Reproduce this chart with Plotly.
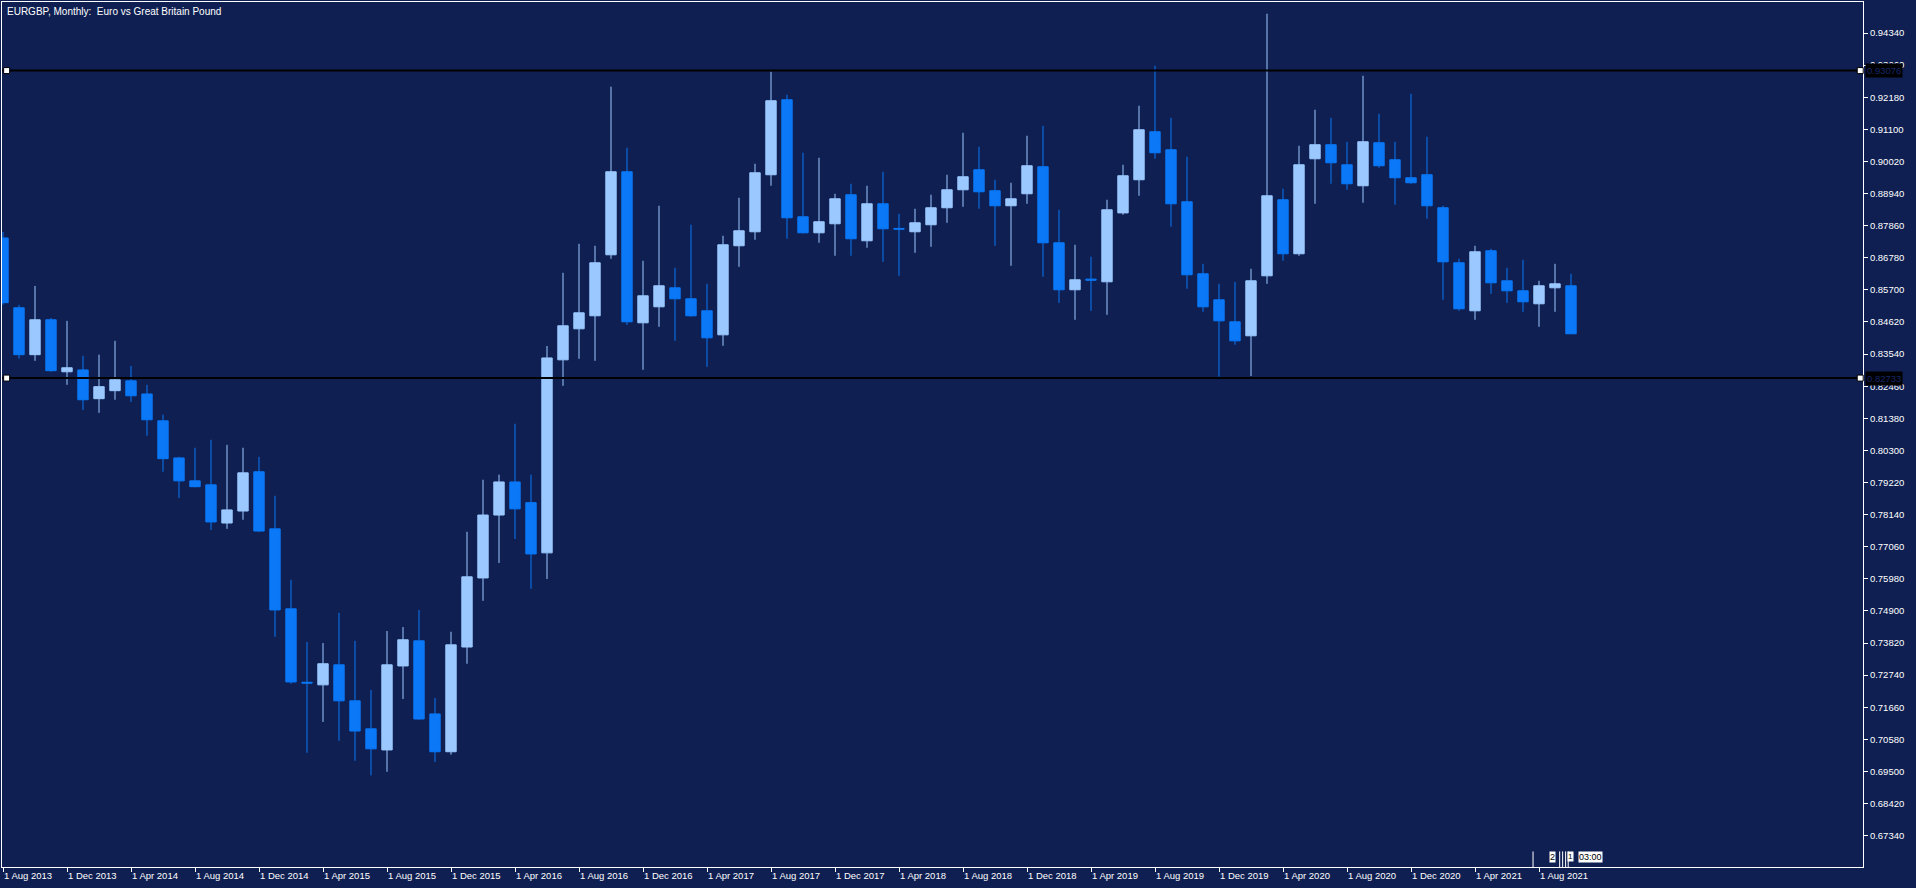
import plotly.graph_objects as go

# ---- data ----
months = ["Aug 2013","Sep 2013","Oct 2013","Nov 2013","Dec 2013",
          "Jan 2014","Feb 2014","Mar 2014","Apr 2014","May 2014","Jun 2014","Jul 2014","Aug 2014","Sep 2014","Oct 2014","Nov 2014","Dec 2014",
          "Jan 2015","Feb 2015","Mar 2015","Apr 2015","May 2015","Jun 2015","Jul 2015","Aug 2015","Sep 2015","Oct 2015","Nov 2015","Dec 2015",
          "Jan 2016","Feb 2016","Mar 2016","Apr 2016","May 2016","Jun 2016","Jul 2016","Aug 2016","Sep 2016","Oct 2016","Nov 2016","Dec 2016",
          "Jan 2017","Feb 2017","Mar 2017","Apr 2017","May 2017","Jun 2017","Jul 2017","Aug 2017","Sep 2017","Oct 2017","Nov 2017","Dec 2017",
          "Jan 2018","Feb 2018","Mar 2018","Apr 2018","May 2018","Jun 2018","Jul 2018","Aug 2018","Sep 2018","Oct 2018","Nov 2018","Dec 2018",
          "Jan 2019","Feb 2019","Mar 2019","Apr 2019","May 2019","Jun 2019","Jul 2019","Aug 2019","Sep 2019","Oct 2019","Nov 2019","Dec 2019",
          "Jan 2020","Feb 2020","Mar 2020","Apr 2020","May 2020","Jun 2020","Jul 2020","Aug 2020","Sep 2020","Oct 2020","Nov 2020","Dec 2020",
          "Jan 2021","Feb 2021","Mar 2021","Apr 2021","May 2021","Jun 2021","Jul 2021","Aug 2021","Sep 2021","Oct 2021"]

opens = [0.87446,0.85098,0.83520,0.84694,0.82945,
         0.83007,0.82040,0.82309,0.82639,0.82199,0.81294,0.80047,0.79276,0.79141,0.77857,0.78261,0.79582,
         0.77661,0.74971,0.72500,0.72414,0.73087,0.71876,0.70934,0.70225,0.73050,0.73894,0.71436,0.70164,
         0.73686,0.76010,0.78126,0.79239,0.78542,0.76854,0.83347,0.84390,0.84828,0.86880,0.89673,0.84592,
         0.85130,0.85770,0.85400,0.84996,0.84188,0.87183,0.87654,0.89572,0.92096,0.88158,0.87620,0.87923,
         0.88899,0.87351,0.88596,0.87766,0.87654,0.87890,0.88462,0.89067,0.89740,0.89034,0.88529,0.88933,
         0.89841,0.87284,0.85703,0.86061,0.85971,0.88289,0.89404,0.91019,0.90413,0.88664,0.86241,0.85366,
         0.84626,0.84155,0.86173,0.88731,0.86914,0.90110,0.90582,0.89908,0.89202,0.90649,0.90077,0.89471,
         0.89572,0.88462,0.86611,0.84996,0.87015,0.86005,0.85669,0.85231,0.85770,0.85837]

highs = [0.87650,0.85196,0.85832,0.84756,0.84658,
         0.83484,0.83520,0.83985,0.83141,0.82505,0.81502,0.80083,0.80389,0.80658,0.80487,0.80389,0.80083,
         0.78774,0.75949,0.73858,0.73821,0.74836,0.73894,0.72243,0.74225,0.74359,0.74934,0.71974,0.74200,
         0.77564,0.79313,0.79484,0.81196,0.79484,0.83814,0.86274,0.87250,0.87183,0.92533,0.90481,0.86678,
         0.88529,0.86443,0.87890,0.85904,0.87520,0.88798,0.89942,0.93038,0.92264,0.90312,0.90144,0.88933,
         0.89269,0.89202,0.89673,0.88260,0.88428,0.88899,0.89572,0.90985,0.90514,0.89404,0.89303,0.90884,
         0.91221,0.88394,0.87217,0.86813,0.88731,0.89908,0.91894,0.93240,0.91490,0.90178,0.86577,0.85904,
         0.85971,0.86409,0.94989,0.89101,0.90548,0.91759,0.91490,0.90682,0.92903,0.91625,0.90682,0.92298,
         0.90851,0.88529,0.86746,0.87183,0.87082,0.86443,0.86712,0.86005,0.86577,0.86241]

lows = [0.85200,0.83386,0.83312,0.82945,0.82505,
        0.81661,0.81563,0.82004,0.81930,0.80793,0.79582,0.78701,0.79056,0.77625,0.77661,0.77967,0.77564,
        0.74029,0.72451,0.70127,0.71167,0.70531,0.69858,0.69369,0.69491,0.71937,0.71240,0.69821,0.70066,
        0.73124,0.75240,0.76512,0.77319,0.75644,0.75974,0.82472,0.83381,0.83313,0.86745,0.84525,0.83011,
        0.84457,0.83986,0.84800,0.83111,0.83818,0.86476,0.87385,0.89202,0.87419,0.87600,0.87284,0.86847,
        0.86847,0.87116,0.86645,0.86173,0.86947,0.87149,0.87957,0.88495,0.88428,0.87183,0.86510,0.88596,
        0.86140,0.85265,0.84693,0.84996,0.84861,0.88226,0.88865,0.90110,0.87822,0.85736,0.84962,0.82780,
        0.83852,0.82800,0.85904,0.86678,0.86847,0.88596,0.89269,0.89067,0.88630,0.89808,0.88563,0.89269,
        0.88092,0.85366,0.84996,0.84693,0.85568,0.85265,0.84962,0.84457,0.84962,0.84222]

closes = [0.85269,0.83520,0.84694,0.82982,0.83080,
          0.82004,0.82444,0.82676,0.82138,0.81331,0.80022,0.79276,0.79080,0.77894,0.78298,0.79545,0.77588,
          0.74934,0.72512,0.72475,0.73124,0.71876,0.70861,0.70262,0.73087,0.73931,0.71265,0.70164,0.73760,
          0.76047,0.78126,0.79239,0.78334,0.76817,0.83410,0.84491,0.84928,0.86611,0.89673,0.84626,0.85500,
          0.85837,0.85400,0.84828,0.84087,0.87217,0.87688,0.89639,0.92062,0.88125,0.87620,0.87991,0.88764,
          0.87419,0.88596,0.87755,0.87744,0.87957,0.88462,0.89067,0.89505,0.88999,0.88529,0.88764,0.89875,
          0.87284,0.85703,0.86039,0.86028,0.88394,0.89539,0.91086,0.90312,0.88596,0.86207,0.85130,0.84659,
          0.83986,0.86005,0.88865,0.86914,0.89908,0.90582,0.89976,0.89269,0.90682,0.89875,0.89471,0.89303,
          0.88529,0.86644,0.85063,0.86981,0.85938,0.85669,0.85299,0.85837,0.85904,0.84222]

# price axis ticks and horizontal levels
price_ticks = [0.67340,0.68420,0.69500,0.70580,0.71660,0.72740,0.73820,0.74900,0.75980,0.77060,
               0.78140,0.79220,0.80300,0.81380,0.82460,0.83540,0.84620,0.85700,0.86780,0.87860,
               0.88940,0.90020,0.91100,0.92180,0.93260,0.94340]
levels = [0.93076, 0.82733]

# time axis labels (every 4 months)
tick_months = months[::4]
tick_labels = ["1 " + m for m in tick_months]

title_text = "EURGBP, Monthly:  Euro vs Great Britain Pound"

# ---- style ----
BG = "#0f1f52"
BULL = "#9bc9ff"
BEAR = "#0a78f7"
FONT = "Liberation Sans"

fig = go.Figure()
fig.add_trace(go.Candlestick(
    x=months, open=opens, high=highs, low=lows, close=closes,
    increasing=dict(fillcolor=BULL, line=dict(color=BULL, width=1)),
    decreasing=dict(fillcolor=BEAR, line=dict(color=BEAR, width=1)),
    whiskerwidth=0, showlegend=False, hoverinfo="skip",
))

shapes = []
for lv in levels:
    shapes.append(dict(type="line", xref="paper", yref="y", x0=0, x1=1, y0=lv, y1=lv,
                       line=dict(color="black", width=2), layer="above"))
    for xa in (0.0025, 0.9985):
        shapes.append(dict(type="rect", xref="paper", yref="y", xsizemode="pixel", ysizemode="pixel",
                           xanchor=xa, yanchor=lv, x0=-3, x1=3, y0=-3, y1=3,
                           fillcolor="white", line=dict(color="black", width=1), layer="above"))

# small time markers at bottom right
for xp in (0.8227, 0.8370, 0.8386, 0.8402, 0.8416):
    shapes.append(dict(type="line", xref="paper", yref="paper", x0=xp, x1=xp, y0=0.0, y1=0.018,
                       line=dict(color="white", width=1), layer="above"))

annotations = [
    dict(text=title_text, xref="paper", yref="paper", x=0.0, y=1.0, xanchor="left", yanchor="top",
         xshift=3, yshift=-2, showarrow=False, font=dict(color="white", size=10, family=FONT)),
]
for lv in levels:
    annotations.append(dict(text=f"{lv:.5f}", xref="paper", yref="y", x=1.0, y=lv,
                            xanchor="left", yanchor="middle", xshift=2, showarrow=False,
                            bgcolor="black", borderpad=1,
                            font=dict(color="#16286a", size=9.5, family=FONT)))
annotations.append(dict(text="2", xref="paper", yref="paper", x=0.8329, y=0.0116, showarrow=False,
                        xanchor="center", yanchor="middle",
                        bgcolor="white", borderpad=0, font=dict(color="black", size=9, family=FONT)))
annotations.append(dict(text="1", xref="paper", yref="paper", x=0.8430, y=0.0116, showarrow=False,
                        xanchor="center", yanchor="middle",
                        bgcolor="white", borderpad=0, font=dict(color="black", size=8, family=FONT)))
annotations.append(dict(text="03:00", xref="paper", yref="paper", x=0.8538, y=0.0116, showarrow=False,
                        xanchor="center", yanchor="middle",
                        bgcolor="white", borderpad=0, font=dict(color="black", size=9, family=FONT)))

fig.update_layout(
    width=1916, height=888,
    margin=dict(l=2, r=53, t=2, b=21),
    paper_bgcolor=BG, plot_bgcolor=BG,
    boxgap=0.35, boxgroupgap=0,
    font=dict(family=FONT, color="white", size=9),
    shapes=shapes, annotations=annotations,
    xaxis=dict(type="category", categoryorder="array", categoryarray=months,
               range=[-0.0625, 116.25], rangeslider=dict(visible=False),
               tickmode="array", tickvals=tick_months, ticktext=tick_labels,
               ticks="outside", ticklen=4, tickcolor="white", ticklabelposition="outside right",
               showline=True, linecolor="white", linewidth=1, mirror=True,
               showgrid=False, zeroline=False, fixedrange=True,
               tickfont=dict(color="white", size=9.5, family=FONT)),
    yaxis=dict(side="right", range=[0.66287, 0.95383],
               tickmode="array", tickvals=price_ticks, ticktext=[f"{v:.5f}" for v in price_ticks],
               ticks="outside", ticklen=4, tickcolor="white",
               showline=True, linecolor="white", linewidth=1, mirror=True,
               showgrid=False, zeroline=False, fixedrange=True,
               tickfont=dict(color="white", size=9.5, family=FONT)),
)

fig.write_html("out.html", config={"displayModeBar": False},
               post_script="document.body.style.margin='0';document.body.style.background='#0f1f52';")
